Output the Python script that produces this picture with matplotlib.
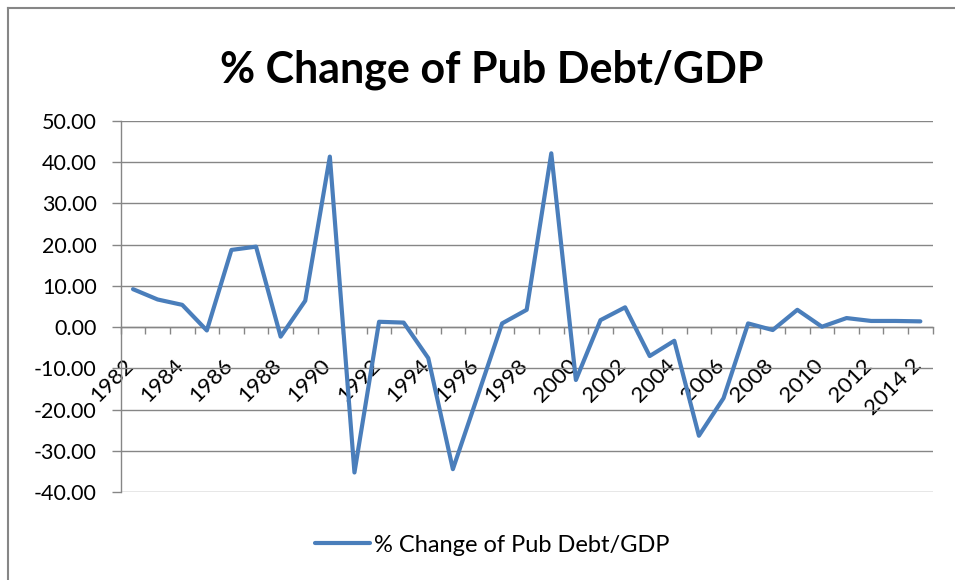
import matplotlib
matplotlib.use("Agg")
import matplotlib.pyplot as plt
import matplotlib.transforms as mtransforms
from matplotlib.lines import Line2D
from matplotlib.ticker import FixedLocator, MultipleLocator

plt.rcParams['font.family'] = ['Lato', 'DejaVu Sans']

# yearly % change of public debt / GDP, 1982 .. 2014
years = list(range(1982, 2015))
pct_change = [9.2, 6.7, 5.4, -0.8, 18.7, 19.5, -2.3, 6.4, 41.3, -35.2,
              1.3, 1.1, -7.5, -34.4, -16.8, 0.9, 4.2, 42.1, -12.8, 1.7,
              4.8, -7.0, -3.3, -26.3, -17.2, 0.9, -0.7, 4.2, 0.1, 2.2,
              1.5, 1.5, 1.4]
xlabels = [str(y) if (y - 1982) % 2 == 0 else '' for y in years]
xlabels[-1] = '2014 2'
series_name = '% Change of Pub Debt/GDP'

grey = '#868686'
blue = '#4A7EBB'

fig = plt.figure(figsize=(9.55, 5.8), dpi=100)
ax = fig.add_axes([0.1264, 0.1512, 0.8502, 0.6407])

x = list(range(len(years)))
line, = ax.plot(x, pct_change, color=blue, lw=3.0, solid_joinstyle='round',
                solid_capstyle='round', label=series_name, zorder=3)

ax.set_xlim(-0.5, len(years) - 0.5)
ax.set_ylim(-40, 50)
ax.yaxis.set_major_locator(MultipleLocator(10))
ax.yaxis.set_major_formatter(lambda v, p: f'{v:.2f}')
ax.yaxis.grid(True, color=grey, lw=1.0)
ax.set_axisbelow(True)

for s in ('top', 'right'):
    ax.spines[s].set_visible(False)
ax.spines['bottom'].set_position(('data', 0))
for s in ('left', 'bottom'):
    ax.spines[s].set_color(grey)
    ax.spines[s].set_linewidth(1.0)

# labels at category centres, tick marks at category boundaries
ax.xaxis.set_major_locator(FixedLocator(x))
ax.set_xticklabels(xlabels, rotation=45, ha='right', fontsize=16)
ax.xaxis.set_minor_locator(FixedLocator([i - 0.5 for i in range(len(years) + 1)]))
ax.tick_params(axis='x', which='major', length=0, pad=20)
ax.tick_params(axis='x', which='minor', length=5, width=1.0, color=grey, direction='out')
ax.tick_params(axis='y', length=6.3, width=1.0, color=grey, pad=11, labelsize=15.5)

shift = mtransforms.ScaledTranslation(5 / 100, 0, fig.dpi_scale_trans)
for lab in ax.get_xticklabels():
    lab.set_transform(lab.get_transform() + shift)

fig.text(0.5147, 1 - 83 / 580, series_name, ha='center', va='baseline',
         fontsize=31, fontweight='bold')

fig.legend(handles=[line], loc='center', bbox_to_anchor=(492.5 / 955, 1 - 545 / 580),
           frameon=False, fontsize=17, handlelength=2.3, handletextpad=0.2)

# chart area border
fig.add_artist(Line2D([8 / 955, 1.0], [1 - 8 / 580] * 2, color=grey, lw=1.5))
fig.add_artist(Line2D([8 / 955] * 2, [0.0, 1 - 8 / 580], color=grey, lw=1.5))

fig.savefig('out.png', dpi=100)
